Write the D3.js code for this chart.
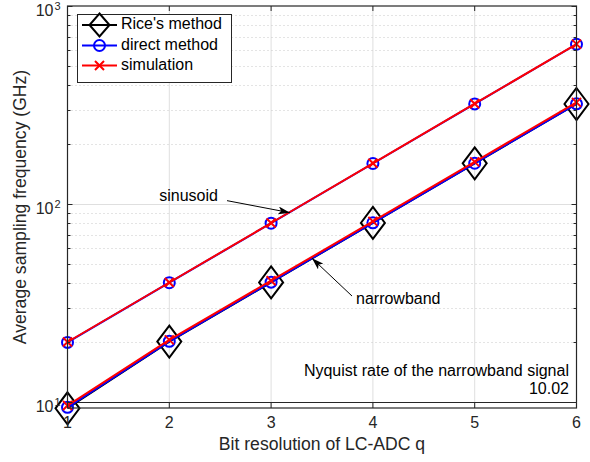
<!DOCTYPE html>
<html>
<head>
<meta charset="utf-8">
<script src="https://cdn.jsdelivr.net/npm/d3@7"></script>
<style>
  body { margin: 0; background: #fff; }
  svg { display: block; font-family: 'Liberation Sans', Arial, Helvetica, sans-serif; }
</style>
</head>
<body>
<svg></svg>
<script>
const SVG_WIDTH = 590;
const SVG_HEIGHT = 462;

// Plot box, in pixels.
const LEFT = 67.5;
const RIGHT = 576.5;
const TOP = 6;
const BOTTOM = 408;

// Data.
const bits = [1, 2, 3, 4, 5, 6];
const sinDirect = [20.0, 40.05, 80.0, 160.2, 320.4, 641];
const sinSim = [20.1, 40.15, 80.2, 160.5, 321, 642];
const nbRice = [9.3, 20.2, 40.2, 80.3, 160.5, 320];
const nbDirect = [9.4, 20.25, 40.3, 80.4, 160.6, 320.5];
const nbSim = [9.6, 20.6, 41.0, 81.7, 163.3, 326];
const nyquist = 10.02;

const xTicks = [1, 2, 3, 4, 5, 6];
const yMajor = [10, 100, 1000];
const yMinor = [20, 30, 40, 50, 60, 70, 80, 90, 200, 300, 400, 500, 600, 700, 800, 900];

const legendLabels = ["Rice's method", 'direct method', 'simulation'];

const AXIS = '#262626';
const GRID = '#dfdfdf';

const svg = d3
  .select('svg')
  .attr('width', SVG_WIDTH)
  .attr('height', SVG_HEIGHT)
  .attr('viewBox', `0 0 ${SVG_WIDTH} ${SVG_HEIGHT}`);

const x = d3.scaleLinear().domain([1, 6]).range([LEFT, RIGHT]);
const y = d3.scaleLog().domain([9.33, 1000]).range([BOTTOM, TOP]);

// Grid lines.
const grid = svg.append('g');
grid
  .selectAll('line.gx')
  .data(xTicks.slice(1, -1))
  .join('line')
  .attr('x1', d => x(d))
  .attr('x2', d => x(d))
  .attr('y1', TOP)
  .attr('y2', BOTTOM)
  .attr('stroke', GRID);
grid
  .selectAll('line.gym')
  .data(yMinor)
  .join('line')
  .attr('x1', LEFT)
  .attr('x2', RIGHT)
  .attr('y1', d => Math.round(y(d)) + 0.5)
  .attr('y2', d => Math.round(y(d)) + 0.5)
  .attr('stroke', '#c8c8c8')
  .attr('stroke-dasharray', '1,3');
grid
  .append('line')
  .attr('x1', LEFT)
  .attr('x2', RIGHT)
  .attr('y1', Math.round(y(100)) + 0.5)
  .attr('y2', Math.round(y(100)) + 0.5)
  .attr('stroke', GRID);

// Nyquist rate line.
svg
  .append('line')
  .attr('x1', x(1))
  .attr('x2', x(6))
  .attr('y1', Math.round(y(nyquist)) + 0.5)
  .attr('y2', Math.round(y(nyquist)) + 0.5)
  .attr('stroke', AXIS)
  .attr('stroke-width', 1);

const line = d3
  .line()
  .x((d, i) => x(bits[i]))
  .y(d => y(d));

function drawDiamond(g, cx, cy, w, h) {
  g.append('path')
    .attr('d', `M${cx},${cy - h / 2}L${cx + w / 2},${cy}L${cx},${cy + h / 2}L${cx - w / 2},${cy}Z`)
    .attr('fill', 'none')
    .attr('stroke', '#000')
    .attr('stroke-width', 2);
}

function drawCircle(g, cx, cy) {
  g.append('circle')
    .attr('cx', cx)
    .attr('cy', cy)
    .attr('r', 5.5)
    .attr('fill', 'none')
    .attr('stroke', '#0000ff')
    .attr('stroke-width', 2);
}

function drawCross(g, cx, cy) {
  const s = 4.5;
  g.append('path')
    .attr('d', `M${cx - s},${cy - s}L${cx + s},${cy + s}M${cx - s},${cy + s}L${cx + s},${cy - s}`)
    .attr('stroke', '#ff0000')
    .attr('stroke-width', 2);
}

const plot = svg.append('g');

// Rice's method (narrowband only).
plot.append('path').attr('d', line(nbRice)).attr('fill', 'none').attr('stroke', '#000').attr('stroke-width', 2);
nbRice.forEach((v, i) => drawDiamond(plot, x(bits[i]), y(v), 24, 32));

// Direct method.
[sinDirect, nbDirect].forEach(series => {
  plot.append('path').attr('d', line(series)).attr('fill', 'none').attr('stroke', '#0000ff').attr('stroke-width', 2);
  series.forEach((v, i) => drawCircle(plot, x(bits[i]), y(v)));
});

// Simulation.
[sinSim, nbSim].forEach(series => {
  plot.append('path').attr('d', line(series)).attr('fill', 'none').attr('stroke', '#ff0000').attr('stroke-width', 2);
  series.forEach((v, i) => drawCross(plot, x(bits[i]), y(v)));
});

// Axes box and ticks.
const axes = svg.append('g').attr('stroke', AXIS).attr('fill', 'none');
axes
  .append('rect')
  .attr('x', LEFT)
  .attr('y', TOP)
  .attr('width', RIGHT - LEFT)
  .attr('height', BOTTOM - TOP)
  .attr('stroke-width', 1.2);

const TICK = 5;
xTicks.forEach(t => {
  axes.append('line').attr('x1', x(t)).attr('x2', x(t)).attr('y1', BOTTOM).attr('y2', BOTTOM - TICK);
  axes.append('line').attr('x1', x(t)).attr('x2', x(t)).attr('y1', TOP).attr('y2', TOP + TICK);
});
yMajor.concat(yMinor).forEach(t => {
  const len = yMajor.includes(t) ? TICK : 3;
  const yy = Math.round(y(t)) + 0.5;
  axes.append('line').attr('x1', LEFT).attr('x2', LEFT + len).attr('y1', yy).attr('y2', yy);
  axes.append('line').attr('x1', RIGHT).attr('x2', RIGHT - len).attr('y1', yy).attr('y2', yy);
});

// Tick labels.
const labels = svg.append('g').attr('fill', AXIS).attr('font-size', 16);
labels
  .selectAll('text.xt')
  .data(xTicks)
  .join('text')
  .attr('x', d => x(d))
  .attr('y', BOTTOM + 16)
  .attr('text-anchor', 'middle')
  .attr('dominant-baseline', 'middle')
  .text(d => d);

yMajor.forEach(t => {
  labels
    .append('text')
    .attr('x', LEFT - 14)
    .attr('y', y(t) + 6)
    .attr('text-anchor', 'end')
    .attr('dominant-baseline', 'middle')
    .text('10');
  labels
    .append('text')
    .attr('x', LEFT - 13)
    .attr('y', y(t) + 1.5)
    .attr('font-size', 11)
    .attr('dominant-baseline', 'middle')
    .text(Math.round(Math.log10(t)));
});

// Axis titles.
svg
  .append('text')
  .attr('x', (LEFT + RIGHT) / 2)
  .attr('y', 445)
  .attr('text-anchor', 'middle')
  .attr('dominant-baseline', 'middle')
  .attr('font-size', 17.6)
  .attr('fill', AXIS)
  .text('Bit resolution of LC-ADC q');

svg
  .append('text')
  .attr('transform', `translate(21,${(TOP + BOTTOM) / 2}) rotate(-90)`)
  .attr('text-anchor', 'middle')
  .attr('dominant-baseline', 'middle')
  .attr('font-size', 17.6)
  .attr('fill', AXIS)
  .text('Average sampling frequency (GHz)');

// Annotations, anchored in data units.
const defs = svg.append('defs');
defs
  .append('marker')
  .attr('id', 'head')
  .attr('viewBox', '0 0 12 8')
  .attr('refX', 12)
  .attr('refY', 4)
  .attr('markerWidth', 12)
  .attr('markerHeight', 8)
  .attr('markerUnits', 'userSpaceOnUse')
  .attr('orient', 'auto')
  .append('path')
  .attr('d', 'M0,0L12,4L0,8L3,4Z')
  .attr('fill', '#000');

function arrow(from, to) {
  svg
    .append('line')
    .attr('x1', x(from[0]))
    .attr('y1', y(from[1]))
    .attr('x2', x(to[0]))
    .attr('y2', y(to[1]))
    .attr('stroke', '#000')
    .attr('stroke-width', 1)
    .attr('marker-end', 'url(#head)');
}

function note(pos, text, anchor) {
  svg
    .append('text')
    .attr('x', x(pos[0]))
    .attr('y', y(pos[1]))
    .attr('text-anchor', anchor)
    .attr('dominant-baseline', 'middle')
    .attr('font-size', 16)
    .attr('fill', '#000')
    .text(text);
}

note([2.478, 108.5], 'sinusoid', 'end');
arrow([2.567, 104], [3.186, 90.4]);
note([3.834, 32.8], 'narrowband', 'start');
arrow([3.795, 34.3], [3.402, 53.2]);
note([5.926, 14.18], 'Nyquist rate of the narrowband signal', 'end');
note([5.926, 11.5], String(nyquist), 'end');

// Legend.
const legend = svg.append('g');
legend
  .append('rect')
  .attr('x', 77.5)
  .attr('y', 14.5)
  .attr('width', 154)
  .attr('height', 68)
  .attr('fill', '#fff')
  .attr('stroke', AXIS);
const rowY = [25, 45.5, 65.5];
const rowColor = ['#000', '#0000ff', '#ff0000'];
legendLabels.forEach((label, i) => {
  legend
    .append('line')
    .attr('x1', 82)
    .attr('x2', 117)
    .attr('y1', rowY[i])
    .attr('y2', rowY[i])
    .attr('stroke', rowColor[i])
    .attr('stroke-width', 2);
  if (i === 0) drawDiamond(legend, 99.5, rowY[i], 20, 23);
  if (i === 1) drawCircle(legend, 99.5, rowY[i]);
  if (i === 2) drawCross(legend, 99.5, rowY[i]);
  legend
    .append('text')
    .attr('x', 121)
    .attr('y', rowY[i])
    .attr('dominant-baseline', 'middle')
    .attr('font-size', 16)
    .attr('fill', '#000')
    .text(label);
});
</script>
</body>
</html>
